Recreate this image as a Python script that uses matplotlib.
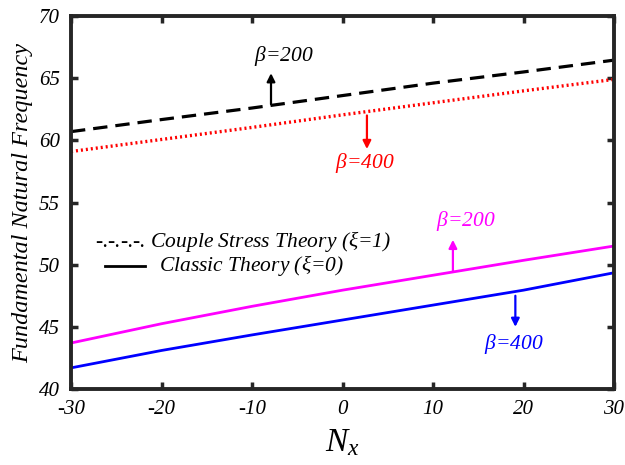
import numpy as np
import matplotlib
matplotlib.use('Agg')
import matplotlib.pyplot as plt

plt.rcParams['font.family'] = ['Liberation Serif', 'DejaVu Serif']
plt.rcParams['mathtext.fontset'] = 'custom'
plt.rcParams['mathtext.it'] = 'Liberation Serif:italic'
plt.rcParams['mathtext.rm'] = 'Liberation Serif'
plt.rcParams['axes.unicode_minus'] = False

# Axial load N_x
nx = [-30, -20, -10, 0, 10, 20, 30]
# Couple stress theory (xi=1)
cst_b200 = [60.7, 61.67, 62.6, 63.6, 64.6, 65.5, 66.45]
cst_b400 = [59.1, 60.07, 61.04, 62.05, 63.02, 63.98, 64.9]
# Classic theory (xi=0)
ct_b200 = [43.7, 45.25, 46.65, 47.95, 49.15, 50.35, 51.5]
ct_b400 = [41.7, 43.1, 44.35, 45.55, 46.75, 47.95, 49.35]

SPINE = '#262626'

fig = plt.figure(figsize=(6.25, 4.65), dpi=100)
ax = fig.add_axes([0.1136, 0.1634, 0.8688, 0.8022])

ax.plot(nx, cst_b200, color='black', lw=2.3, ls=(0, (4.5, 2.5)))
ax.plot(nx, cst_b400, color='red', lw=2.4, ls=(0, (0.6, 0.9)))
ax.plot(nx, ct_b200, color='magenta', lw=2.0)
ax.plot(nx, ct_b400, color='blue', lw=2.0)

ax.set_xlim(-30, 30)
ax.set_ylim(40, 70)
ax.set_xticks(np.arange(-30, 31, 10))
ax.set_yticks(np.arange(40, 71, 5))
ax.tick_params(direction='in', length=5, width=2.5, color=SPINE, top=True, right=True,
               labelsize=15, pad=8)
for lab in ax.get_xticklabels() + ax.get_yticklabels():
    lab.set_fontstyle('italic')
for sp in ax.spines.values():
    sp.set_linewidth(2.8)
    sp.set_color(SPINE)

ax.set_ylabel('Fundamental Natural Frequency', fontsize=17.5, style='italic', labelpad=4)
ax.set_xlabel(r'$N_x$', fontsize=24, labelpad=6)

# annotations
def note(txt, xy, xytext, color, tx, ty):
    ax.annotate('', xy=xytext, xytext=xy,
                arrowprops=dict(arrowstyle='-|>', color=color, lw=1.6,
                                mutation_scale=12, shrinkA=0, shrinkB=0))
    ax.text(tx, ty, txt, color=color, fontsize=15.5, style='italic',
            ha='center', va='center')

note(r'$\beta$=200', (-7.9, 62.9), (-7.9, 65.4), 'black', -6.5, 66.8)
note(r'$\beta$=400', (2.7, 62.0), (2.7, 59.3), 'red', 2.5, 58.2)
note(r'$\beta$=200', (12.2, 49.5), (12.2, 52.0), 'magenta', 13.6, 53.5)
note(r'$\beta$=400', (19.1, 47.5), (19.1, 45.0), 'blue', 18.9, 43.6)

# legend drawn by hand
ax.text(-27.4, 51.9, r'-.-.-.-. Couple Stress Theory ($\xi$=1)', fontsize=15.5,
        style='italic', ha='left', va='center')
ax.plot([-26.2, -21.8], [49.9, 49.9], color='black', lw=2.0)
ax.text(-20.3, 49.9, r'Classic Theory ($\xi$=0)', fontsize=15.5,
        style='italic', ha='left', va='center')

fig.savefig('out.png', dpi=100)
